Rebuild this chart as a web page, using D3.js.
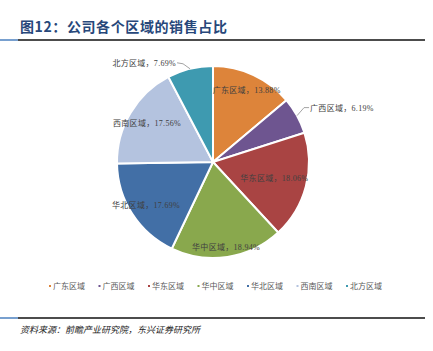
<!DOCTYPE html>
<html>
<head>
<meta charset="utf-8">
<script src="https://cdn.jsdelivr.net/npm/d3@7"></script>
<style>
  body { margin: 0; background: #fff; }
  svg text { font-family: "Noto Sans CJK SC", sans-serif; }
  svg text.lab { font-family: "Liberation Serif", "Noto Sans CJK SC", serif; }
</style>
</head>
<body>
<div id="chart"></div>
<script>
// data
const regions = ["广东区域", "广西区域", "华东区域", "华中区域", "华北区域", "西南区域", "北方区域"]
const shares = [13.88, 6.19, 18.06, 18.94, 17.69, 17.56, 7.69]
const palette = ["#DD843A", "#6E5590", "#A94443", "#89A84D", "#426FA6", "#B4C3DF", "#3E9AB0"]

const width = 433, height = 351
const cx = 213, cy = 162, R = 96

const svg = d3.select("#chart").append("svg")
  .attr("width", width)
  .attr("height", height)

// title + rules
svg.append("text")
  .attr("x", 20).attr("y", 32)
  .attr("font-size", 14).attr("font-weight", "bold")
  .attr("letter-spacing", 0.6)
  .attr("fill", "#27477A")
  .text("图12：公司各个区域的销售占比")

const rule = y => {
  svg.append("line").attr("x1", 0).attr("x2", 18).attr("y1", y).attr("y2", y)
    .attr("stroke", "#2F6DB5").attr("stroke-width", 1.3)
  svg.append("line").attr("x1", 18).attr("x2", 425).attr("y1", y).attr("y2", y)
    .attr("stroke", "#111").attr("stroke-width", 1.3)
}
rule(40)
rule(318)

svg.append("text")
  .attr("x", 20).attr("y", 333)
  .attr("font-size", 9).attr("font-style", "italic")
  .attr("fill", "#222")
  .text("资料来源：前瞻产业研究院，东兴证券研究所")

// pie
const color = d3.scaleOrdinal().domain(regions).range(palette)
const pie = d3.pie().sort(null).value(d => d.v)
const arcs = pie(regions.map((r, i) => ({ r, v: shares[i] })))
const arc = d3.arc().innerRadius(0).outerRadius(R)

const g = svg.append("g").attr("transform", `translate(${cx},${cy})`)
g.selectAll("path").data(arcs).join("path")
  .attr("d", arc)
  .attr("fill", d => color(d.data.r))
  .attr("stroke", "#fff")
  .attr("stroke-width", 2)

// label placement: radius factor inside, or outside with leader
const labelR = [0.83, null, 0.66, 0.9, 0.83, 0.8, null]
const fmt = d => `${d.data.r}，${d.data.v.toFixed(2)}%`

arcs.forEach((d, i) => {
  const mid = (d.startAngle + d.endAngle) / 2
  const sx = Math.sin(mid), sy = -Math.cos(mid)
  if (labelR[i] != null) {
    g.append("text").attr("class", "lab")
      .attr("x", sx * R * labelR[i]).attr("y", sy * R * labelR[i] + 3)
      .attr("text-anchor", "middle")
      .attr("font-size", 8).attr("letter-spacing", 0.3).attr("fill", "#404040")
      .text(fmt(d))
  } else {
    const right = sx > 0
    const p0 = [sx * R, sy * R]
    const p1 = right ? [p0[0] + 7, p0[1] - 8] : [p0[0] - 7, p0[1] - 5]
    const p2 = right ? [p1[0] + 5, p1[1]] : [p1[0] - 6, p1[1] - 1]
    g.append("polyline")
      .attr("points", [p0, p1, p2].map(p => p.join(",")).join(" "))
      .attr("fill", "none").attr("stroke", "#8c8c8c").attr("stroke-width", 0.8)
    g.append("text").attr("class", "lab")
      .attr("x", p2[0] + (right ? 1 : -1)).attr("y", p2[1] + 3)
      .attr("text-anchor", right ? "start" : "end")
      .attr("font-size", 8).attr("letter-spacing", 0.3).attr("fill", "#404040")
      .text(fmt(d))
  }
})

// legend
const lx = d3.scalePoint().domain(regions).range([50, 347])
const leg = svg.append("g").selectAll("g").data(regions).join("g")
  .attr("transform", d => `translate(${lx(d)},286)`)
leg.append("rect").attr("x", -1).attr("y", -1).attr("width", 2).attr("height", 2)
  .attr("fill", d => color(d))
leg.append("text").attr("x", 3).attr("y", 3)
  .attr("font-size", 8).attr("fill", "#595959")
  .text(d => d)
</script>
</body>
</html>
